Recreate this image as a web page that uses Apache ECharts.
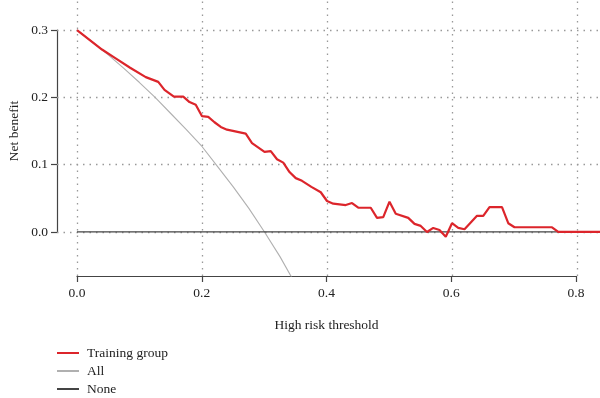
<!DOCTYPE html>
<html>
<head>
<meta charset="utf-8">
<script src="https://cdn.jsdelivr.net/npm/echarts@6/dist/echarts.min.js"></script>
<style>
html, body { margin: 0; padding: 0; background: #fff; }
#main { width: 600px; height: 398px; }
</style>
</head>
<body>
<div id="main"></div>
<script>
// threshold values and net benefit
var trainT = [0, 0.04, 0.06, 0.085, 0.11, 0.13, 0.14, 0.155, 0.17, 0.18, 0.19, 0.2, 0.21, 0.22, 0.23, 0.24, 0.27, 0.28, 0.3, 0.31, 0.32, 0.33, 0.34, 0.35, 0.36, 0.375, 0.39, 0.4, 0.41, 0.43, 0.44, 0.45, 0.47, 0.48, 0.49, 0.5, 0.51, 0.53, 0.54, 0.55, 0.56, 0.57, 0.58, 0.59, 0.6, 0.61, 0.62, 0.64, 0.65, 0.66, 0.68, 0.69, 0.7, 0.76, 0.77, 0.84];
var trainV = [0.300, 0.271, 0.259, 0.244, 0.230, 0.223, 0.211, 0.201, 0.201, 0.193, 0.189, 0.172, 0.171, 0.163, 0.156, 0.152, 0.146, 0.132, 0.119, 0.120, 0.108, 0.103, 0.089, 0.080, 0.076, 0.067, 0.059, 0.046, 0.042, 0.040, 0.043, 0.036, 0.036, 0.021, 0.022, 0.045, 0.027, 0.021, 0.012, 0.009, 0.000, 0.006, 0.003, -0.007, 0.013, 0.006, 0.004, 0.024, 0.024, 0.037, 0.037, 0.013, 0.007, 0.007, 0.000, 0.000];
var allT = [0, 0.025, 0.05, 0.075, 0.1, 0.125, 0.15, 0.175, 0.2, 0.225, 0.25, 0.275, 0.3, 0.325, 0.345];
var allV = [0.300, 0.282, 0.263, 0.243, 0.222, 0.200, 0.176, 0.152, 0.127, 0.097, 0.067, 0.035, 0.000, -0.037, -0.070];
var noneT = [0, 0.84];
var noneV = [0, 0];
var xTicks = [0, 0.2, 0.4, 0.6, 0.8];
var yTicks = [0, 0.1, 0.2, 0.3];
var legendNames = ['Training group', 'All', 'None'];

var zip = function (a, b) { return a.map(function (x, i) { return [x, b[i]]; }); };

var chartDom = document.getElementById('main');
var myChart = echarts.init(chartDom);
var font = '"Liberation Serif", "DejaVu Serif", serif';
var axisCol = '#444';

var gridLines = xTicks.map(function (x) { return { xAxis: x }; })
    .concat(yTicks.map(function (y) { return { yAxis: y }; }));

var option = {
    animation: false,
    textStyle: { fontFamily: font },
    legend: {
        orient: 'vertical',
        left: 57,
        top: 346,
        height: 60,
        padding: 0,
        itemWidth: 22,
        itemHeight: 2,
        itemGap: 4,
        icon: 'rect',
        textStyle: { fontFamily: font, fontSize: 13.5, color: '#222', lineHeight: 14, padding: [0, 0, 0, 3] },
        data: legendNames
    },
    grid: [
        // plot region
        { left: 57, right: 0, top: 0, bottom: 122 },
        // x axis
        { left: 77, width: 499, top: 275, height: 1 },
        // y axis
        { left: 57, width: 1, top: 30, height: 202 }
    ],
    xAxis: [
        { gridIndex: 0, type: 'value', min: -0.032, max: 0.8368, show: false },
        {
            gridIndex: 1, type: 'value', min: 0, max: 0.8, interval: 0.2,
            position: 'bottom',
            axisLine: { show: true, lineStyle: { color: axisCol, width: 1.2 } },
            axisTick: { show: true, length: 6, lineStyle: { color: axisCol, width: 1.2 } },
            splitLine: { show: false },
            axisLabel: {
                margin: 10, fontSize: 13.5, color: '#222', fontFamily: font,
                formatter: function (v) { return v.toFixed(1); }
            },
            name: 'High risk threshold',
            nameLocation: 'middle',
            nameGap: 42,
            nameTextStyle: { fontSize: 13.5, color: '#222', fontFamily: font }
        },
        { gridIndex: 2, type: 'value', show: false, min: 0, max: 1 }
    ],
    yAxis: [
        { gridIndex: 0, type: 'value', min: -0.0654, max: 0.3446, show: false },
        { gridIndex: 1, type: 'value', show: false, min: 0, max: 1 },
        {
            gridIndex: 2, type: 'value', min: 0, max: 0.3, interval: 0.1,
            position: 'left',
            axisLine: { show: true, lineStyle: { color: axisCol, width: 1.2 } },
            axisTick: { show: true, length: 6, lineStyle: { color: axisCol, width: 1.2 } },
            splitLine: { show: false },
            axisLabel: {
                margin: 9, fontSize: 13.5, color: '#222', fontFamily: font,
                formatter: function (v) { return v.toFixed(1); }
            },
            name: 'Net benefit',
            nameLocation: 'middle',
            nameGap: 36,
            nameTextStyle: { fontSize: 13.5, color: '#222', fontFamily: font }
        }
    ],
    series: [
        {
            name: 'All',
            type: 'line',
            xAxisIndex: 0, yAxisIndex: 0,
            symbol: 'none',
            clip: true,
            color: '#b0b0b0',
            lineStyle: { color: '#b0b0b0', width: 1.1 },
            data: zip(allT, allV),
            z: 3,
            markLine: {
                silent: true,
                symbol: 'none',
                label: { show: false },
                lineStyle: { color: '#999', type: [1.5, 5], width: 1.3 },
                data: gridLines,
                z: 1
            }
        },
        {
            name: 'None',
            type: 'line',
            xAxisIndex: 0, yAxisIndex: 0,
            symbol: 'none',
            clip: true,
            color: '#444',
            lineStyle: { color: '#444', width: 1.3 },
            data: zip(noneT, noneV),
            z: 4
        },
        {
            name: 'Training group',
            type: 'line',
            xAxisIndex: 0, yAxisIndex: 0,
            symbol: 'none',
            clip: true,
            color: '#dc252b',
            lineStyle: { color: '#dc252b', width: 2.2 },
            data: zip(trainT, trainV),
            z: 5
        }
    ]
};
option && myChart.setOption(option);
</script>
</body>
</html>
